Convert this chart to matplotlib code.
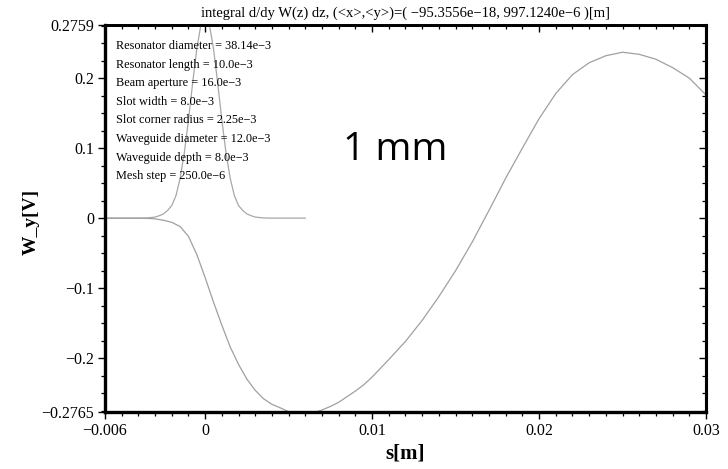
import matplotlib
matplotlib.use("Agg")
import matplotlib.pyplot as plt
from matplotlib.ticker import FixedLocator, MultipleLocator, NullFormatter

# ---- data ----
# wake potential W_y [V] versus s [m]
wake_s = [-0.006, -0.004, -0.0035, -0.003, -0.0025, -0.002, -0.0015, -0.001, -0.0005,
          0.0, 0.0005, 0.001, 0.0015, 0.002, 0.0025, 0.003, 0.0035, 0.004, 0.0045,
          0.005, 0.0055, 0.006, 0.0065, 0.007, 0.0075, 0.008, 0.0085, 0.009, 0.0095,
          0.010, 0.011, 0.012, 0.013, 0.014, 0.015, 0.016, 0.017, 0.018, 0.019,
          0.020, 0.021, 0.022, 0.023, 0.024, 0.025, 0.026, 0.027, 0.028, 0.029, 0.030]
wake_w = [0.0, 0.0, -0.0003, -0.001, -0.003, -0.006, -0.012, -0.026, -0.052,
          -0.085, -0.120, -0.153, -0.184, -0.209, -0.230, -0.246, -0.258, -0.266, -0.271,
          -0.2765, -0.280, -0.2805, -0.278, -0.274, -0.269, -0.263, -0.255, -0.247, -0.238,
          -0.227, -0.202, -0.176, -0.146, -0.112, -0.075, -0.034, 0.011, 0.057, 0.100,
          0.142, 0.178, 0.205, 0.222, 0.232, 0.237, 0.234, 0.227, 0.215, 0.200, 0.176]

# bunch profile (arbitrary scale)
bunch_s = [-0.006, -0.004, -0.0035, -0.003, -0.00275, -0.0025, -0.00225, -0.002, -0.00175,
           -0.0015, -0.00125, -0.001, -0.00075, -0.0005, -0.00025, 0.0, 0.00025, 0.0005,
           0.00075, 0.001, 0.00125, 0.0015, 0.00175, 0.002, 0.00225, 0.0025, 0.00275,
           0.003, 0.0035, 0.004, 0.006]
bunch_w = [0.0, 0.0, 0.0003, 0.0015, 0.0035, 0.006, 0.011, 0.018, 0.032,
           0.057, 0.093, 0.140, 0.193, 0.242, 0.277, 0.290, 0.277, 0.242,
           0.193, 0.140, 0.093, 0.057, 0.032, 0.018, 0.011, 0.006, 0.0035,
           0.0015, 0.0003, 0.0, 0.0]

x_ticks = [-0.006, 0.0, 0.01, 0.02, 0.03]
x_ticklabels = ["\u22120.006", "0", "0.01", "0.02", "0.03"]
y_ticks = [-0.2765, -0.2, -0.1, 0.0, 0.1, 0.2, 0.2759]
y_ticklabels = ["\u22120.2765", "\u22120.2", "\u22120.1", "0", "0.1", "0.2", "0.2759"]

title = "integral d/dy W(z) dz, (<x>,<y>)=( \u221295.3556e\u221218, 997.1240e\u22126 )[m]"
params = ["Resonator diameter = 38.14e\u22123",
          "Resonator length = 10.0e\u22123",
          "Beam aperture = 16.0e\u22123",
          "Slot width = 8.0e\u22123",
          "Slot corner radius = 2.25e\u22123",
          "Waveguide diameter = 12.0e\u22123",
          "Waveguide depth = 8.0e\u22123",
          "Mesh step = 250.0e\u22126"]

serif = "Liberation Serif"

fig = plt.figure(figsize=(7.28, 4.69), dpi=100)
ax = fig.add_axes([105 / 728, 1 - 411.7 / 469, 601 / 728, 386.7 / 469])

ax.plot(bunch_s, bunch_w, color="#a8a8a8", lw=0.9)
ax.plot(wake_s, wake_w, color="#a0a0a0", lw=0.9)

ax.set_xlim(-0.006, 0.03)
ax.set_ylim(-0.2765, 0.2759)

# ticks: outward on bottom/left
ax.xaxis.set_major_locator(FixedLocator(x_ticks))
ax.set_xticklabels(x_ticklabels)
ax.xaxis.set_minor_locator(MultipleLocator(0.001))
ax.yaxis.set_major_locator(FixedLocator(y_ticks))
ax.set_yticklabels(y_ticklabels)
ax.yaxis.set_minor_locator(MultipleLocator(0.025))
ax.tick_params(which="major", direction="out", length=5, width=1.0, labelsize=11.5, pad=3)
ax.tick_params(which="minor", direction="out", length=2.8, width=0.9)
for lab in ax.get_xticklabels() + ax.get_yticklabels():
    lab.set_family(serif)

# mirrored ticks: inward on top/right
top = ax.secondary_xaxis("top")
top.xaxis.set_major_locator(FixedLocator(x_ticks))
top.xaxis.set_minor_locator(MultipleLocator(0.001))
top.xaxis.set_major_formatter(NullFormatter())
top.tick_params(which="major", direction="in", length=5, width=1.0)
top.tick_params(which="minor", direction="in", length=3, width=0.9)
top.spines["top"].set_linewidth(2.0)

right = ax.secondary_yaxis("right")
right.yaxis.set_major_locator(FixedLocator(y_ticks))
right.yaxis.set_minor_locator(MultipleLocator(0.025))
right.yaxis.set_major_formatter(NullFormatter())
right.tick_params(which="major", direction="in", length=5, width=1.0)
right.tick_params(which="minor", direction="in", length=3, width=0.9)
right.spines["right"].set_linewidth(2.2)

for side in ["left", "bottom"]:
    ax.spines[side].set_linewidth(2.4)
ax.spines["top"].set_linewidth(2.0)
ax.spines["right"].set_linewidth(2.2)

ax.set_title(title, family=serif, fontsize=10.5, pad=6)
ax.set_xlabel("s[m]", family=serif, fontsize=15, fontweight="bold")
ax.set_ylabel("W_y[V]", family=serif, fontsize=14, fontweight="bold")
ax.xaxis.set_label_coords(0.499, -0.082)
ax.yaxis.set_label_coords(-0.108, 0.49)

# parameter block
y0 = 46
for i, line in enumerate(params):
    py = y0 + i * 18.6
    ax.text(116 / 728, 1 - py / 469, line, transform=fig.transFigure,
            family=serif, fontsize=8.8, va="center", ha="left")

fig.text(343 / 728, 1 - 160 / 469, "1 mm", family="Open Sans", fontsize=28,
         ha="left", va="baseline", color="black")

fig.savefig("out.png", dpi=100)
